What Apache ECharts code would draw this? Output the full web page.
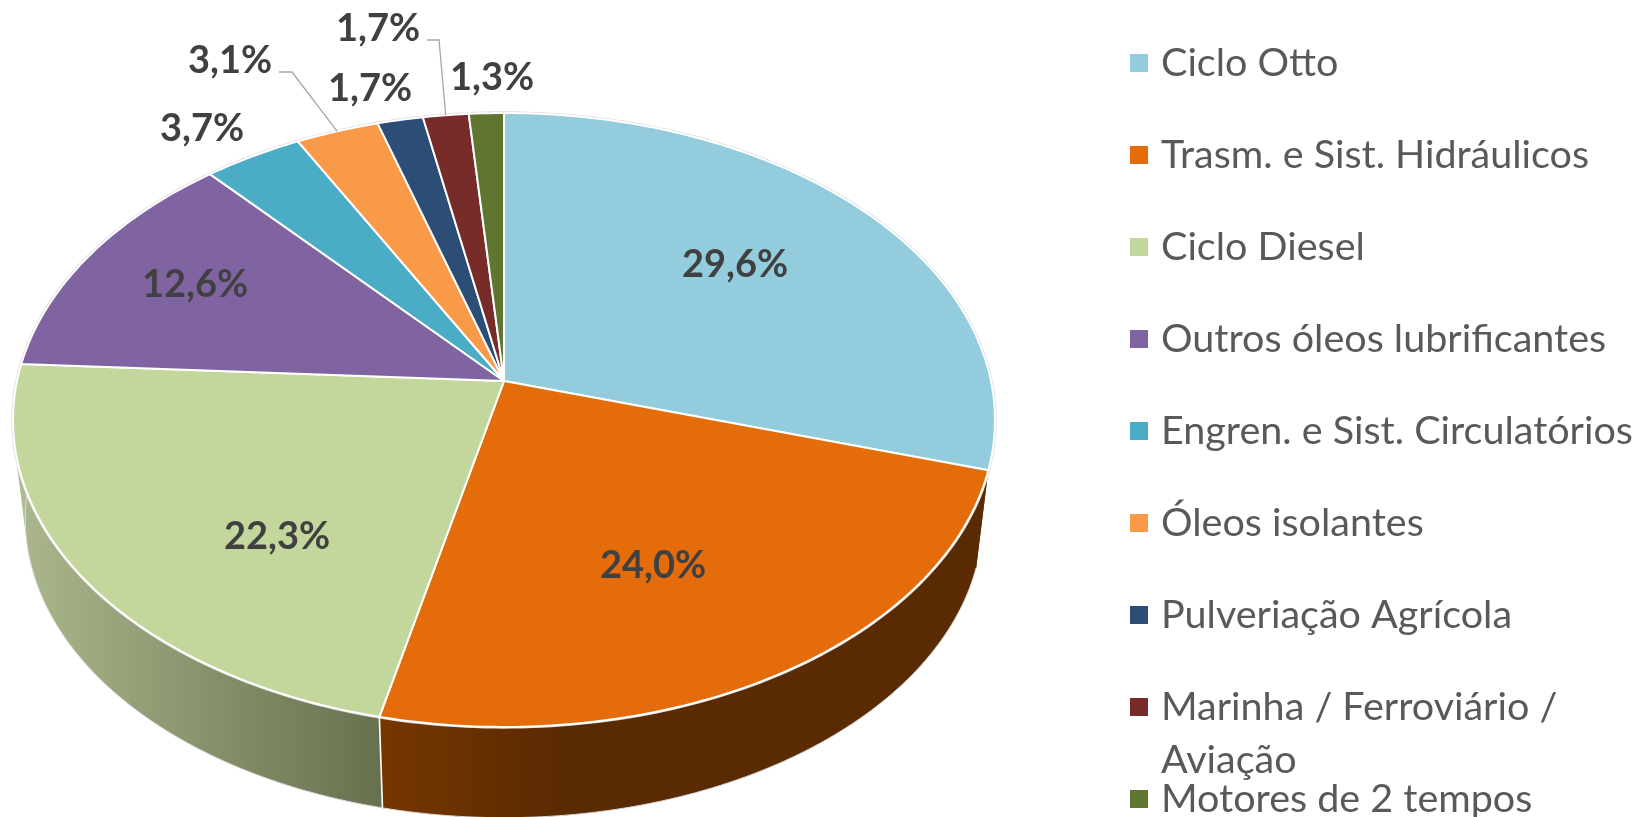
<!DOCTYPE html>
<html>
<head>
<meta charset="utf-8">
<style>
    html, body { margin: 0; padding: 0; background: #fff; }
    #chart { width: 1636px; height: 817px; }
</style>
</head>
<body>
<div id="chart"></div>
<script src="https://cdn.jsdelivr.net/npm/echarts@6/dist/echarts.min.js"></script>
<script>
const categories = [
    'Ciclo Otto',
    'Trasm. e Sist. Hidráulicos',
    'Ciclo Diesel',
    'Outros óleos lubrificantes',
    'Engren. e Sist. Circulatórios',
    'Óleos isolantes',
    'Pulveriação Agrícola',
    'Marinha / Ferroviário / Aviação',
    'Motores de 2 tempos'
]
const shares = [29.6, 24.0, 22.3, 12.6, 3.7, 3.1, 1.7, 1.7, 1.3]
const colors = ['#93CDDD', '#E46C0A', '#C3D69B', '#8064A2', '#4BACC6', '#F99A48', '#2C4D75', '#772C2A', '#5F7530']

// centre of each percent label on the page, [x, y]
const labelCentres = [[735, 265], [653, 566], [277, 537], [195, 285], [202, 129], [230, 61], [370, 89], [378, 29], [492, 78]]
// leader lines start beside the label: [x of start, x of elbow, y]
const leaders = { 5: [279, 292, 72], 7: [427, 439, 40] }
// gradient of the side wall, only the two front slices show one
const walls = {
    1: { x: 383, x2: 560, stops: ['#763600', '#5A2A02'] },
    2: { x: 20, x2: 383, stops: ['#AAB78C', '#66704E'] }
}

// pie in perspective: a circle run through a projection
const cx = 504, cy = 381, sx = 487, sy = 302, tilt = 0.127
const depth = 99.4, bottomScale = 0.975

const total = shares.reduce((a, b) => a + b, 0)
const starts = []
shares.reduce((sum, v, i) => { starts[i] = sum; return sum + v }, 0)

function toDeg(share) { return share / total * 360 }

function project(deg, bottom) {
    const a = deg * Math.PI / 180
    const u = Math.sin(a), v = -Math.cos(a), w = 1 - tilt * v
    const s = bottom ? bottomScale : 1
    return [cx + s * sx * u / w, cy + (bottom ? depth : 0) + s * sy * v / w]
}

function arc(from, to, bottom) {
    const pts = []
    const n = Math.max(2, Math.ceil(Math.abs(to - from)))
    for (let i = 0; i <= n; i++) pts.push(project(from + (to - from) * i / n, bottom))
    return pts
}

function renderSlice(i) {
    const from = toDeg(starts[i]), to = toDeg(starts[i] + shares[i]), mid = (from + to) / 2
    const children = []

    // faint grey rim, sits under the white slice border
    children.push({
        type: 'polyline', z2: 3, silent: true,
        shape: { points: arc(from, to, false) },
        style: { fill: null, stroke: '#DCDCDC', lineWidth: 3.4 }
    })
    // top face
    children.push({
        type: 'polygon', z2: 4, silent: true,
        shape: { points: [[cx, cy]].concat(arc(from, to, false)) },
        style: { fill: colors[i], stroke: '#fff', lineWidth: 2, lineJoin: 'round' }
    })

    if (walls[i]) {
        const w = walls[i]
        const fill = {
            type: 'linear', global: true, x: w.x, y: 0, x2: w.x2, y2: 0,
            colorStops: [{ offset: 0, color: w.stops[0] }, { offset: 1, color: w.stops[1] }]
        }
        const top = arc(from, to, false), bot = arc(from, to, true)
        // one strip for the body, quads on top only fill the sliver at the silhouette
        children.push({
            type: 'polygon', z2: 1, silent: true,
            shape: { points: top.concat(bot.slice().reverse()) },
            style: { fill: fill }
        })
        for (let j = 0; j < top.length - 1; j++) {
            children.push({
                type: 'polygon', z2: 1, silent: true,
                shape: { points: [top[j], top[j + 1], bot[j + 1], bot[j]] },
                style: { fill: fill }
            })
        }
        children.push({
            type: 'polyline', z2: 2, silent: true,
            shape: { points: bot },
            style: { fill: null, stroke: '#DCDCDC', lineWidth: 1 }
        })
        // seam at the start of the wall
        if (i === 2) {
            children.push({
                type: 'line', z2: 2, silent: true,
                shape: { x1: top[0][0], y1: top[0][1], x2: bot[0][0], y2: bot[0][1] },
                style: { stroke: '#fff', lineWidth: 1.6 }
            })
        }
    }

    if (leaders[i]) {
        const l = leaders[i], end = project(mid, false)
        children.push({
            type: 'polyline', z2: 5, silent: true,
            shape: { points: [[l[0], l[2]], [l[1], l[2]], end] },
            style: { fill: null, stroke: '#A6A6A6', lineWidth: 1.3 }
        })
    }

    children.push({
        type: 'text', z2: 6, silent: true,
        x: labelCentres[i][0], y: labelCentres[i][1],
        style: {
            text: shares[i].toFixed(1).replace('.', ',') + '%',
            fill: '#404040',
            font: 'bold 38px Lato',
            align: 'center',
            verticalAlign: 'middle'
        }
    })
    return { type: 'group', children: children }
}

const chart = echarts.init(document.getElementById('chart'))
chart.setOption({
    animation: false,
    legend: {
        orient: 'vertical',
        left: 1130,
        top: 41,
        height: 900,
        padding: 0,
        icon: 'rect',
        itemWidth: 18,
        itemHeight: 18,
        itemGap: 48,
        selectedMode: false,
        data: categories,
        formatter: name => name.replace(' Aviação', ''),
        textStyle: {
            color: '#595959',
            fontFamily: 'Lato',
            fontSize: 39.5,
            lineHeight: 44,
            padding: [0, 0, 0, 8]
        }
    },
    graphic: [{
        type: 'text',
        left: 1161,
        top: 740,
        style: { text: 'Aviação', fill: '#595959', font: '39.5px Lato' }
    }],
    series: categories.map((name, i) => ({
        type: 'custom',
        name: name,
        coordinateSystem: 'none',
        itemStyle: { color: colors[i] },
        data: [[shares[i]]],
        renderItem: () => renderSlice(i)
    }))
})
</script>
</body>
</html>
